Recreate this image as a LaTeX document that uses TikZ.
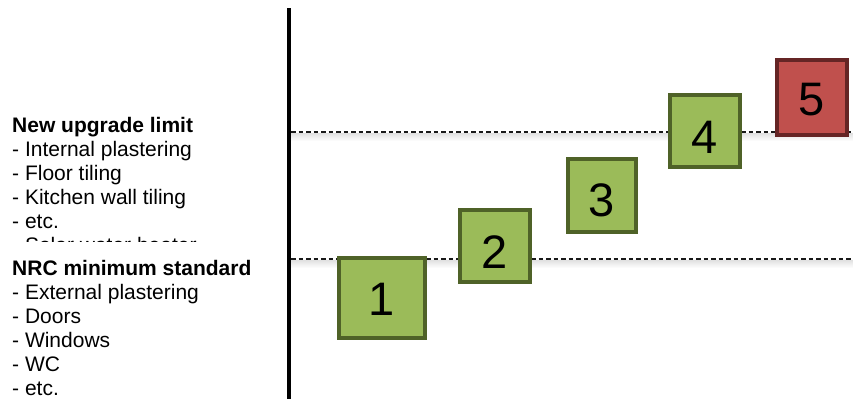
\documentclass[tikz,border=0pt]{standalone}
\usepackage{fontspec}
\setmainfont{Liberation Sans}
\definecolor{boxgreen}{HTML}{9BBB59}
\definecolor{boxgreenD}{HTML}{4F6228}
\definecolor{boxred}{HTML}{C0504D}
\definecolor{boxredD}{HTML}{652525}
\begin{document}
\begin{tikzpicture}[x=1pt,y=-1pt,
  gbox/.style={draw=boxgreenD, fill=boxgreen, line width=4pt, inner sep=0pt},
  rbox/.style={draw=boxredD, fill=boxred, line width=4pt, inner sep=0pt},
  num/.style={font=\fontsize{47}{47}\selectfont, inner sep=0pt, anchor=base},
  txt/.style={font=\fontsize{21}{24}\selectfont, align=left, inner sep=0pt, anchor=base west},
  limitline/.style={line width=1.2pt, color=black!90, dash pattern=on 4.5pt off 3pt},
  axisline/.style={line width=4.5pt, color=black}]
\useasboundingbox (0,0) rectangle (853,399);
% shadows under the limit lines
\shade[top color=black!12, bottom color=white] (291,133) rectangle (853,141);
\shade[top color=black!12, bottom color=white] (291,260) rectangle (853,268);
% limit lines
\coordinate (ua) at (291,132);
\coordinate (ub) at (852,132);
\coordinate (la) at (291,259);
\coordinate (lb) at (852,259);
\draw[limitline] (ua) -- (ub);
\draw[limitline] (la) -- (lb);
% axis
\coordinate (vtop) at (289,8);
\coordinate (vbot) at (289,399);
\draw[axisline] (vtop) -- (vbot);
% boxes
\node[gbox, minimum width=86pt, minimum height=80pt] (b1) at (382,298) {};
\node[gbox, minimum width=70pt, minimum height=72pt] (b2) at (495,246) {};
\node[gbox, minimum width=68pt, minimum height=73pt] (b3) at (602,195.5) {};
\node[gbox, minimum width=70pt, minimum height=72pt] (b4) at (705,131) {};
\node[rbox, minimum width=70pt, minimum height=75pt] (b5) at (812,97.5) {};
\node[num] (n1) at (382,315) {1};
\node[num] (n2) at (495,268) {2};
\node[num] (n3) at (602,216) {3};
\node[num] (n4) at (705,153) {4};
\node[num] (n5) at (812,115) {5};
% left texts
\begin{scope}
\clip (0,0) rectangle (284,241);
\node[txt] (upg) at (12,252) {\textbf{New upgrade limit}\\- Internal plastering\\- Floor tiling\\- Kitchen wall tiling\\- etc.\\- Solar water heater};
\end{scope}
\node[txt] (nrc) at (12,395) {\textbf{NRC minimum standard}\\- External plastering\\- Doors\\- Windows\\- WC\\- etc.};
\end{tikzpicture}
\end{document}
